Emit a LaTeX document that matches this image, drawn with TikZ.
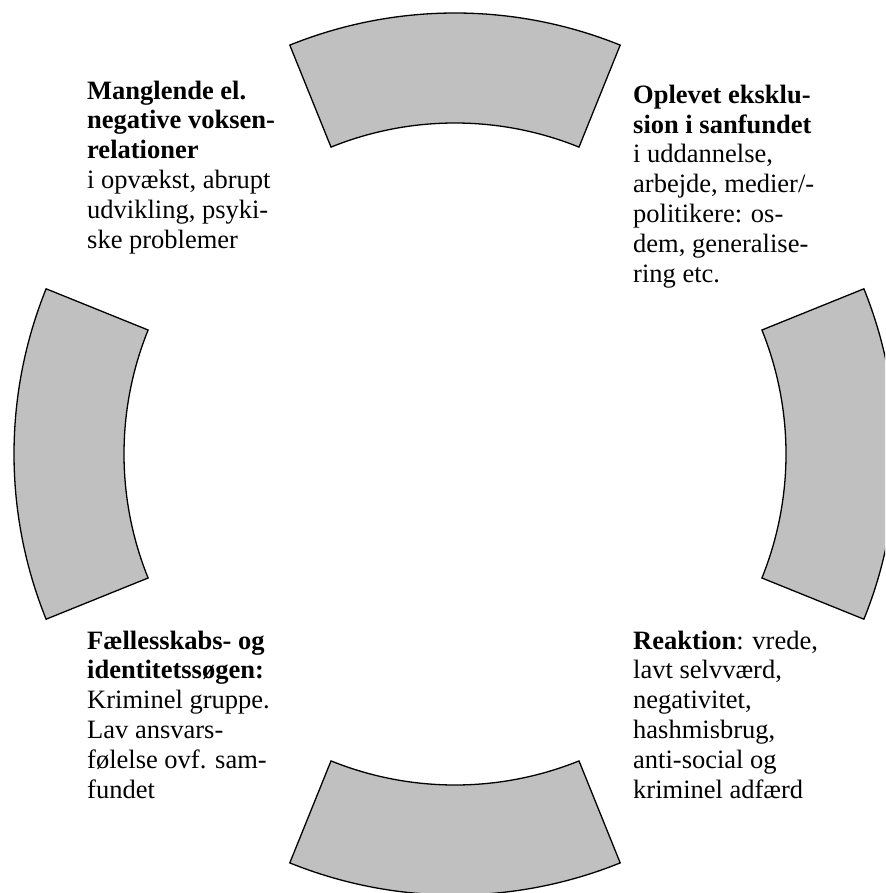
\documentclass[tikz,border=0pt]{standalone}
\usepackage{fontspec}
\setmainfont{Liberation Serif}
\begin{document}
\begin{tikzpicture}[x=1pt,y=1pt,
  seg/.style={draw=black,fill={rgb,255:red,192;green,192;blue,192},line width=1.3pt,line join=miter},
  txt/.style={anchor=base west,inner sep=0pt,align=left,font=\fontsize{26.5}{29.8}\selectfont}]
\useasboundingbox (0,0) rectangle (885,-893);
\clip (0,0) rectangle (885,-893);
\coordinate (c) at (455,-454);
% four ring segments
\foreach \a/\nm in {90/segtop,0/segright,270/segbottom,180/segleft}{
  \draw[seg] ([shift={(c)}]\a-22:441) arc[start angle=\a-22,end angle=\a+22,radius=441]
     -- ([shift={(c)}]\a+22:331) arc[start angle=\a+22,end angle=\a-22,radius=331] -- cycle;
}
% texts (base anchor = baseline of the last line)
\node[txt] (tl) at (87,-248) {\textbf{Manglende el.}\\\textbf{negative voksen-}\\\textbf{relationer}\\i opvækst, abrupt\\udvikling, psyki-\\ske problemer};
\begin{scope}
\clip (600,0) rectangle (885,-287);
\node[txt] (tr) at (633,-282) {\textbf{Oplevet eksklu-}\\\textbf{sion i sanfundet}\\i uddannelse,\\arbejde, medier/-\\politikere: os-\\dem, generalise-\\ring etc.};
\end{scope}
\node[txt] (bl) at (87,-798) {\textbf{Fællesskabs- og}\\\textbf{identitetssøgen:}\\Kriminel gruppe.\\Lav ansvars-\\følelse ovf. sam-\\fundet};
\node[txt] (br) at (633,-798) {\textbf{Reaktion}: vrede,\\lavt selvværd,\\negativitet,\\hashmisbrug,\\anti-social og\\kriminel adfærd};
\end{tikzpicture}
\end{document}
